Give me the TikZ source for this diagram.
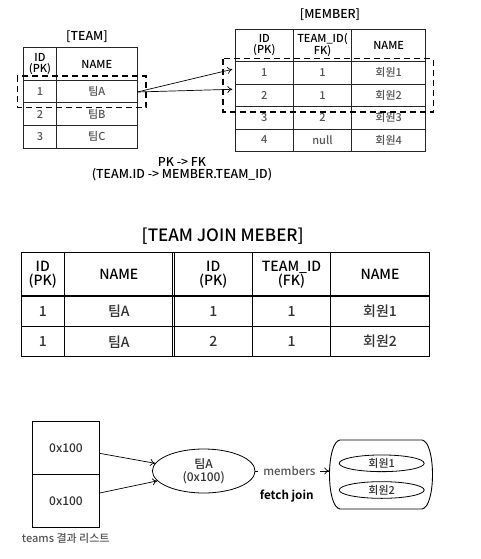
\documentclass[tikz,border=0pt]{standalone}
\usepackage{fontspec}
\setmainfont{Noto Sans CJK KR}[UprightFont=* Medium,BoldFont=* Bold]
\usetikzlibrary{shapes.geometric,arrows.meta}
\definecolor{txtgray}{HTML}{555555}
\definecolor{dgray}{HTML}{333333}
\begin{document}
\begin{tikzpicture}[x=1pt,y=-1pt,
  grid/.style={line width=0.9pt,draw=black!85},
  jgrid/.style={line width=1.3pt,draw=black},
  dbox/.style={line width=1.6pt,dash pattern=on 6pt off 4pt},
  hd/.style={font=\fontsize{11}{10.8}\selectfont,align=center,inner sep=0pt,text=black},
  cell/.style={font=\fontsize{11}{10}\selectfont,inner sep=0pt,text=txtgray},
  jhd/.style={font=\fontsize{14}{14}\selectfont,align=center,inner sep=0pt,text=black},
  jcell/.style={font=\fontsize{14}{12}\selectfont,inner sep=0pt,text=dgray},
  lbl/.style={font=\fontsize{12.3}{12.3}\selectfont,inner sep=0pt,align=center},
  arr/.style={-{To[length=5pt,width=7pt]},line width=0.7pt},
  ell/.style={ellipse,draw,line width=0.8pt,inner sep=0pt}
]
\useasboundingbox[fill=white] (0,0) rectangle (481,559);

% ---------- TEAM table ----------
\node[lbl] (teamlbl) at (87,36.7) {[TEAM]};
\draw[grid] (23.7,47.7) rectangle (137.3,148);
\draw[grid] (56.3,47.7) -- (56.3,148);
\foreach \y in {80,102.7,125.3} \draw[grid] (23.7,\y) -- (137.3,\y);
\node[hd] (tid) at (40,64) {ID\\(PK)};
\node[hd] (tname) at (96.8,64) {NAME};
\node[cell] (t1a) at (40,91.3) {1};
\node[cell] (t1b) at (96.8,91.3) {팀A};
\node[cell] (t2a) at (40,114) {2};
\node[cell] (t2b) at (96.8,114) {팀B};
\node[cell] (t3a) at (40,136.7) {3};
\node[cell] (t3b) at (96.8,136.7) {팀C};
\coordinate (tsrc) at (137.3,92);

% ---------- MEMBER table ----------
\node[lbl] (memlbl) at (330,15) {[MEMBER]};
\draw[grid] (235.3,29.3) rectangle (425.7,151);
\foreach \x in {293.3,351.7} \draw[grid] (\x,29.3) -- (\x,151);
\foreach \y in {61.3,84,106.7,129} \draw[grid] (235.3,\y) -- (425.7,\y);
\node[hd] (mid) at (264.3,45.3) {ID\\(PK)};
\node[hd] (mtid) at (322.5,45.3) {TEAM\_ID(\\FK)};
\node[hd] (mname) at (388.7,45.3) {NAME};
\node[cell] (m1a) at (264.3,72.7) {1};
\node[cell] (m1b) at (322.5,72.7) {1};
\node[cell] (m1c) at (388.7,72.7) {회원1};
\node[cell] (m2a) at (264.3,95.3) {2};
\node[cell] (m2b) at (322.5,95.3) {1};
\node[cell] (m2c) at (388.7,95.3) {회원2};
\node[cell] (m3a) at (264.3,117.8) {3};
\node[cell] (m3b) at (322.5,117.8) {2};
\node[cell] (m3c) at (388.7,117.8) {회원3};
\node[cell] (m4a) at (264.3,140) {4};
\node[cell] (m4b) at (322.5,140) {null};
\node[cell] (m4c) at (388.7,140) {회원4};
\coordinate (mdst1) at (232.3,69.3);
\coordinate (mdst2) at (232.3,89.3);

% dashed highlight boxes
\draw[dbox] (17.3,76.3) rectangle (146,107.7);
\draw[dbox] (223,58.7) rectangle (433.3,112);

\draw[arr] (tsrc) -- (mdst1);
\draw[arr] (tsrc) -- (mdst2);

\node[lbl] (pkfk) at (182,168.9) {PK -> FK\\(TEAM.ID -> MEMBER.TEAM\_ID)};

% ---------- JOIN table ----------
\node[font=\fontsize{17}{17}\selectfont,inner sep=0pt] (jtitle) at (222.7,236) {[TEAM JOIN MEBER]};
\draw[jgrid] (21.3,252.7) rectangle (429.3,356.7);
\foreach \x in {64.3,172.4,174.6,252.3,330.7} \draw[jgrid] (\x,252.7) -- (\x,356.7);
\foreach \y in {296,326.7} \draw[jgrid] (21.3,\y) -- (429.3,\y);
\node[jhd] (jh1) at (42.8,274.3) {ID\\(PK)};
\node[jhd] (jh2) at (118.8,274.3) {NAME};
\node[jhd] (jh3) at (213.3,274.3) {ID\\(PK)};
\node[jhd] (jh4) at (291.5,274.3) {TEAM\_ID\\(FK)};
\node[jhd] (jh5) at (380,274.3) {NAME};
\node[jcell] (j11) at (42.8,311.3) {1};
\node[jcell] (j12) at (118.8,311.3) {팀A};
\node[jcell] (j13) at (213.3,311.3) {1};
\node[jcell] (j14) at (291.5,311.3) {1};
\node[jcell] (j15) at (380,311.3) {회원1};
\node[jcell] (j21) at (42.8,341.7) {1};
\node[jcell] (j22) at (118.8,341.7) {팀A};
\node[jcell] (j23) at (213.3,341.7) {2};
\node[jcell] (j24) at (291.5,341.7) {1};
\node[jcell] (j25) at (380,341.7) {회원2};

% ---------- bottom: object graph ----------
\node[draw,line width=0.9pt,minimum width=66.6pt,minimum height=53.7pt,inner sep=0pt,
      font=\fontsize{12}{12}\selectfont,text=dgray] (c1) at (66,447.85) {0x100};
\node[draw,line width=0.9pt,minimum width=66.6pt,minimum height=52.6pt,inner sep=0pt,
      font=\fontsize{12}{12}\selectfont,text=dgray] (c2) at (66,501) {0x100};
\node[font=\fontsize{11}{12}\selectfont,text=txtgray,inner sep=0pt] (tlist) at (65.7,538.3) {teams 결과 리스트};

\node[ell,minimum width=102.6pt,minimum height=44pt,align=center,
      font=\fontsize{12}{13}\selectfont,text=dgray] (teamA) at (203.7,471) {팀A\\(0x100)};

\draw[arr] ([yshift=-5.5pt]c1.east) -- (teamA.171);
\draw[arr] ([yshift=8pt]c2.east) -- (teamA.192);

\node[minimum width=103pt,minimum height=69pt,inner sep=0pt] (bag) at (381,474.5) {};
\draw[line width=0.9pt] (340,440) -- (422,440) .. controls (436,442) and (436,507) .. (422,509)
   -- (340,509) .. controls (326,507) and (326,442) .. (340,440) -- cycle;
\node[ell,minimum width=85pt,minimum height=16.7pt,font=\fontsize{11}{12}\selectfont,text=dgray] (mem1) at (381.7,463.3) {회원1};
\node[ell,minimum width=85pt,minimum height=16.7pt,font=\fontsize{11}{12}\selectfont,text=dgray] (mem2) at (381.7,490) {회원2};

\draw[arr] (teamA.east) -- (teamA.east -| bag.west)
  node[pos=0.46,fill=white,inner xsep=5pt,inner ysep=1.5pt,font=\fontsize{11.5}{12}\selectfont,text=txtgray] (memlbl2) {members};
\node[font=\fontsize{11.7}{13}\selectfont\bfseries,inner sep=0pt] (fj) at (286.7,496) {fetch join};
\end{tikzpicture}
\end{document}
